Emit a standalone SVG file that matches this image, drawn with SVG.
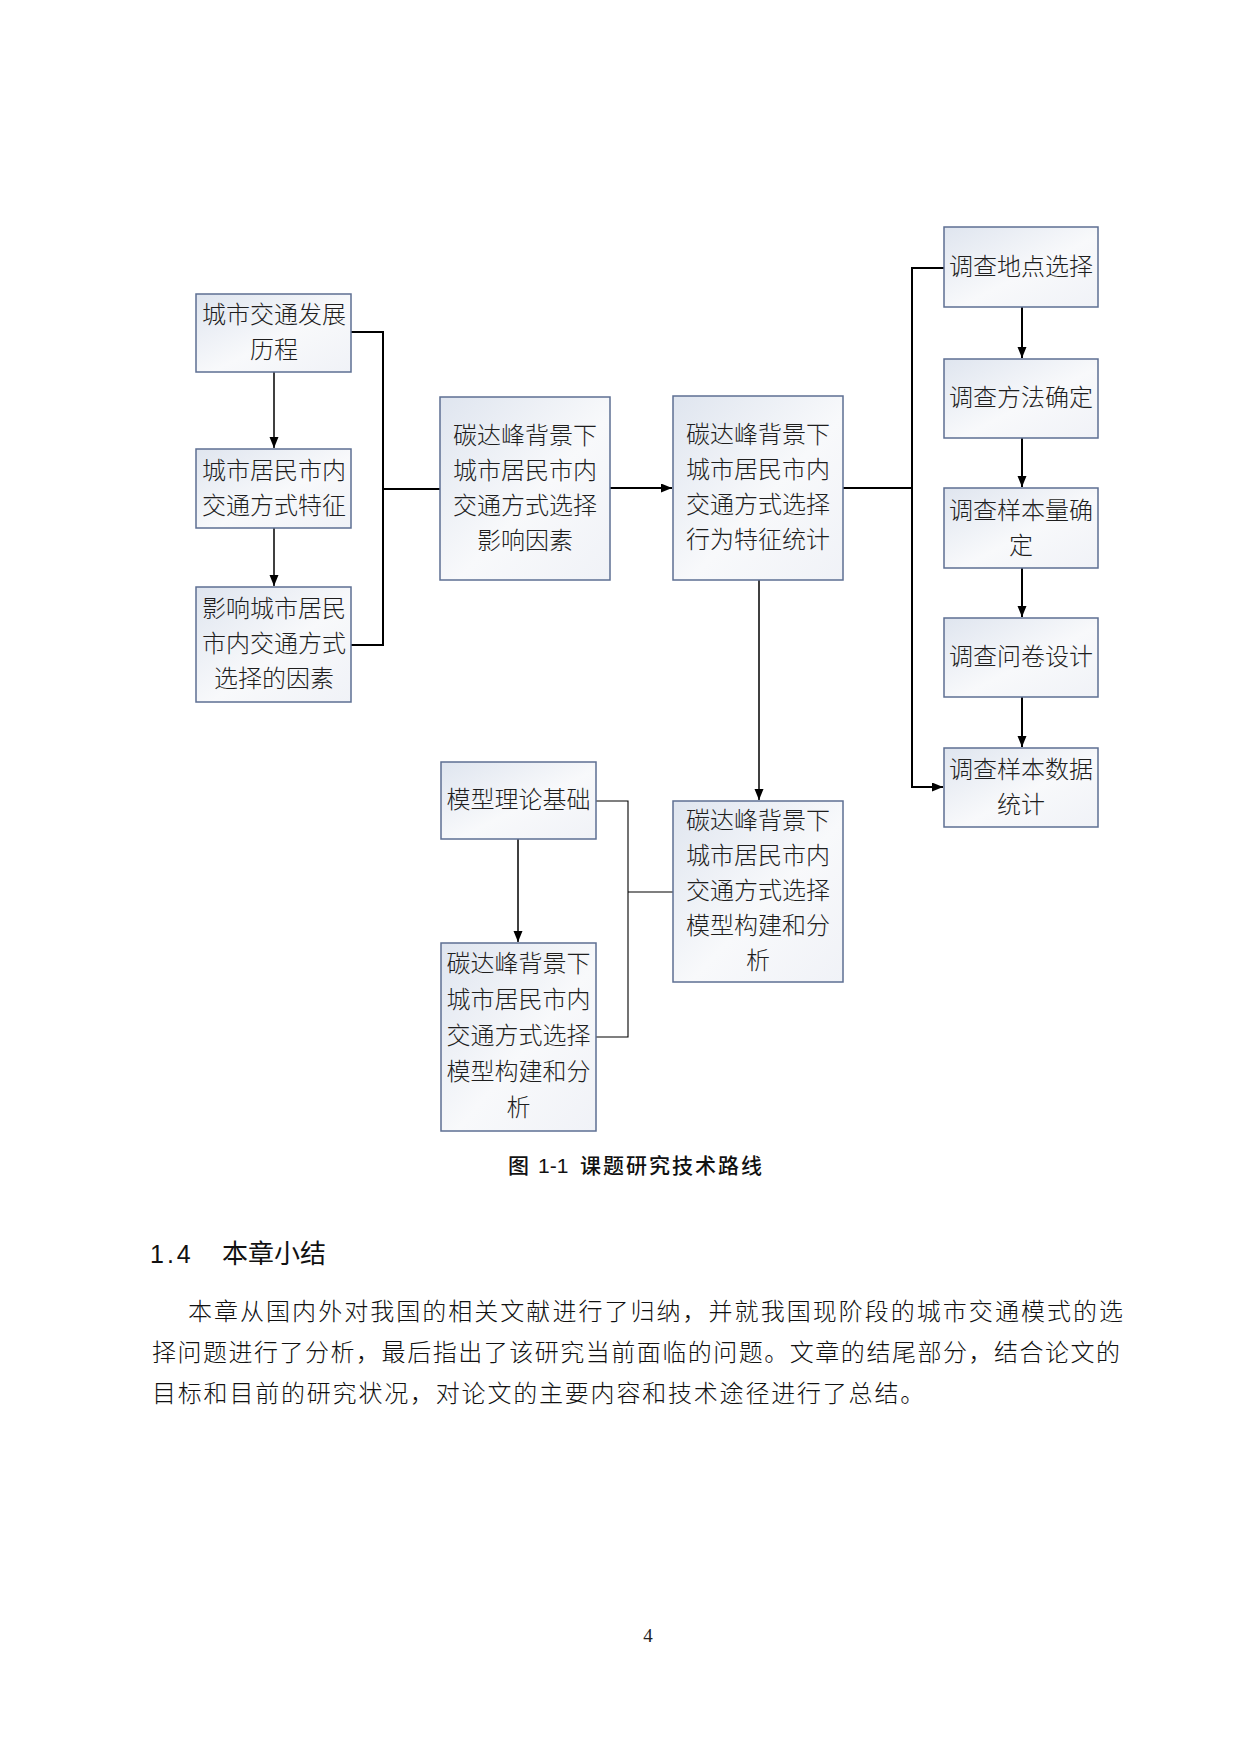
<svg xmlns="http://www.w3.org/2000/svg" width="1240" height="1754" viewBox="0 0 1240 1754">
<defs>
<linearGradient id="boxfill" x1="0" y1="0" x2="1" y2="1">
<stop offset="0" stop-color="#dfe5ef"/>
<stop offset="0.55" stop-color="#f8f9fb"/>
<stop offset="1" stop-color="#f0f2f7"/>
</linearGradient>
<marker id="arr" markerUnits="userSpaceOnUse" markerWidth="12" markerHeight="10" refX="11" refY="4.5" orient="auto">
<path d="M0,0 L11,4.5 L0,9 Z" fill="#000"/>
</marker>
</defs>
<style>
.box{fill:url(#boxfill);stroke:#5d6f93;stroke-width:1.5}
.bt{font-family:"Noto Sans CJK SC",sans-serif;font-size:24px;font-weight:300;fill:#1e1e1e;text-anchor:middle;dominant-baseline:central}
.c2{fill:none;stroke:#000;stroke-width:2}
.c15{fill:none;stroke:#000;stroke-width:1.5}
.c1{fill:none;stroke:#000;stroke-width:1.1}
.body{font-family:"Liberation Sans","Noto Sans CJK SC",sans-serif;font-size:24px;font-weight:300;fill:#111;dominant-baseline:central}
.cap{font-family:"Liberation Sans","Noto Sans CJK SC",sans-serif;font-size:21px;font-weight:500;fill:#111}
</style>
<rect width="1240" height="1754" fill="#fff"/>

<g id="connectors">
<path class="c2" d="M351 332 H383 V645 H351"/>
<path class="c2" d="M383 489 H440"/>
<path class="c15" d="M274 372 V448" marker-end="url(#arr)"/>
<path class="c15" d="M274 528 V586" marker-end="url(#arr)"/>
<path class="c2" d="M610 488 H672" marker-end="url(#arr)"/>
<path class="c2" d="M843 488 H912"/>
<path class="c2" d="M944 268 H912 V787 H943" marker-end="url(#arr)"/>
<path class="c2" d="M1022 307 V358" marker-end="url(#arr)"/>
<path class="c2" d="M1022 438 V487" marker-end="url(#arr)"/>
<path class="c2" d="M1022 568 V617" marker-end="url(#arr)"/>
<path class="c2" d="M1022 697 V747" marker-end="url(#arr)"/>
<path class="c15" d="M759 580 V800" marker-end="url(#arr)"/>
<path class="c1" d="M596 801 H628 V1037 H596"/>
<path class="c1" d="M628 892 H673"/>
<path class="c15" d="M518 839 V942" marker-end="url(#arr)"/>
</g>

<g id="n1"><rect class="box" x="196" y="294" width="155" height="78"/>
<text class="bt" x="274" y="312.5">城市交通发展</text><text class="bt" x="274" y="347.5">历程</text></g>
<g id="n2"><rect class="box" x="196" y="449" width="155" height="79"/>
<text class="bt" x="274" y="468">城市居民市内</text><text class="bt" x="274" y="503">交通方式特征</text></g>
<g id="n3"><rect class="box" x="196" y="587" width="155" height="115"/>
<text class="bt" x="274" y="606.5">影响城市居民</text><text class="bt" x="274" y="641.5">市内交通方式</text><text class="bt" x="274" y="676.5">选择的因素</text></g>
<g id="n4"><rect class="box" x="440" y="397" width="170" height="183"/>
<text class="bt" x="525" y="433">碳达峰背景下</text><text class="bt" x="525" y="468">城市居民市内</text><text class="bt" x="525" y="503">交通方式选择</text><text class="bt" x="525" y="538">影响因素</text></g>
<g id="n5"><rect class="box" x="673" y="396" width="170" height="184"/>
<text class="bt" x="758" y="432.5">碳达峰背景下</text><text class="bt" x="758" y="467.5">城市居民市内</text><text class="bt" x="758" y="502.5">交通方式选择</text><text class="bt" x="758" y="537.5">行为特征统计</text></g>
<g id="n6"><rect class="box" x="944" y="227" width="154" height="80"/>
<text class="bt" x="1021" y="264">调查地点选择</text></g>
<g id="n7"><rect class="box" x="944" y="359" width="154" height="79"/>
<text class="bt" x="1021" y="395.5">调查方法确定</text></g>
<g id="n8"><rect class="box" x="944" y="488" width="154" height="80"/>
<text class="bt" x="1021" y="508">调查样本量确</text><text class="bt" x="1021" y="543">定</text></g>
<g id="n9"><rect class="box" x="944" y="618" width="154" height="79"/>
<text class="bt" x="1021" y="654.5">调查问卷设计</text></g>
<g id="n10"><rect class="box" x="944" y="748" width="154" height="79"/>
<text class="bt" x="1021" y="767">调查样本数据</text><text class="bt" x="1021" y="802">统计</text></g>
<g id="n11"><rect class="box" x="441" y="762" width="155" height="77"/>
<text class="bt" x="518.5" y="797.5">模型理论基础</text></g>
<g id="n12"><rect class="box" x="441" y="943" width="155" height="188"/>
<text class="bt" x="518.5" y="961">碳达峰背景下</text><text class="bt" x="518.5" y="997">城市居民市内</text><text class="bt" x="518.5" y="1033">交通方式选择</text><text class="bt" x="518.5" y="1069">模型构建和分</text><text class="bt" x="518.5" y="1105">析</text></g>
<g id="n13"><rect class="box" x="673" y="801" width="170" height="181"/>
<text class="bt" x="758" y="818.5">碳达峰背景下</text><text class="bt" x="758" y="853.5">城市居民市内</text><text class="bt" x="758" y="888.5">交通方式选择</text><text class="bt" x="758" y="923.5">模型构建和分</text><text class="bt" x="758" y="958.5">析</text></g>

<text class="cap" y="1173"><tspan x="508">图</tspan><tspan x="538">1-1</tspan><tspan x="580" textLength="182" lengthAdjust="spacing">课题研究技术路线</tspan></text>

<text x="150" y="1263" style="font-family:'Liberation Sans',sans-serif;font-size:25px;letter-spacing:3px;fill:#111">1.4</text>
<text x="222" y="1263" style="font-family:'Noto Sans CJK SC',sans-serif;font-size:26px;font-weight:400;fill:#111">本章小结</text>

<text class="body" x="188" y="1311" textLength="935" lengthAdjust="spacing">本章从国内外对我国的相关文献进行了归纳，并就我国现阶段的城市交通模式的选</text>
<text class="body" x="152" y="1352" textLength="968" lengthAdjust="spacing">择问题进行了分析，最后指出了该研究当前面临的问题。文章的结尾部分，结合论文的</text>
<text class="body" x="152" y="1393" style="letter-spacing:1.8px">目标和目前的研究状况，对论文的主要内容和技术途径进行了总结。</text>

<text x="648" y="1642" text-anchor="middle" style="font-family:'Liberation Serif',serif;font-size:19px;fill:#222">4</text>
</svg>
